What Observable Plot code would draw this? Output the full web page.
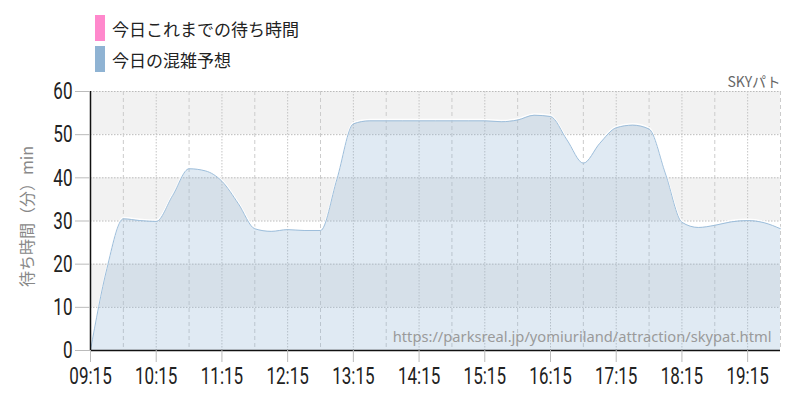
<!DOCTYPE html>
<html><head><meta charset="utf-8">
<script src="https://cdn.jsdelivr.net/npm/d3@7"></script>
<script src="https://cdn.jsdelivr.net/npm/@observablehq/plot@0.6"></script>
<style>
body{margin:0;background:#fff;}
#wrap{position:relative;width:800px;height:400px;overflow:hidden;}
#chart{position:absolute;left:0;top:0;}
.legend{position:absolute;left:95px;font-family:"Noto Sans CJK JP",sans-serif;font-size:17px;color:#222;display:flex;align-items:center;height:26px;}
.sw{width:10px;height:26px;margin-right:7px;display:inline-block;}
</style></head><body>
<div id="wrap">
  <div id="chart"></div>
  <div class="legend" style="top:15px"><span class="sw" style="background:#ff88cc"></span><span id="lg1"></span></div>
  <div class="legend" style="top:46px"><span class="sw" style="background:#8fb3d3"></span><span id="lg2"></span></div>
</div>
<script>
// ---- data ----
const legendLabels = ["今日これまでの待ち時間", "今日の混雑予想"];
const attraction = "SKYパト";
const sourceUrl = "https://parksreal.jp/yomiuriland/attraction/skypat.html";
const yLabel = "待ち時間（分）min";

const times = ["09:15","09:30","09:45","10:00","10:15","10:30","10:45","11:00","11:15","11:30","11:45",
  "12:00","12:15","12:30","12:45","13:00","13:15","13:30","13:45","14:00","14:15","14:30","14:45",
  "15:00","15:15","15:30","15:45","16:00","16:15","16:30","16:45","17:00","17:15","17:30","17:45",
  "18:00","18:15","18:30","18:45","19:00","19:15","19:30","19:45"];
const forecast = [0,19,30.5,30.1,29.9,35.9,42.1,41.6,39.2,34.0,28.2,
  27.6,28.0,27.8,27.8,39.7,52.5,53.2,53.2,53.2,53.2,53.2,53.2,
  53.2,53.2,53.0,53.4,54.5,54.2,48.8,43.4,48.0,51.6,52.2,51.3,
  40.9,29.7,28.5,29.0,29.8,30.1,29.6,28.2];

const xTickLabels = ["09:15","10:15","11:15","12:15","13:15","14:15","15:15","16:15","17:15","18:15","19:15"];
const xHalfTicks = ["09:45","10:45","11:45","12:45","13:45","14:45","15:45","16:45","17:45","18:45","19:45"];
const xStart = "09:15", xEnd = "19:45";
const yTicks = [0,10,20,30,40,50,60];
const bandLow = [10,30,50];
const bandHigh = [20,40,60];

// ---- build ----
document.getElementById("lg1").textContent = legendLabels[0];
document.getElementById("lg2").textContent = legendLabels[1];

const parse = d3.utcParse("%H:%M");
const data = times.map((t,i)=>({t:parse(t), v:forecast[i]}));
const bands = bandLow.map((lo,i)=>({lo, hi:bandHigh[i]}));

const chart = Plot.plot({
  width:800, height:400,
  marginLeft:90, marginRight:20, marginTop:91, marginBottom:50,
  x:{type:"utc", domain:[parse(xStart), parse(xEnd)]},
  y:{domain:[0,60]},
  style:{fontFamily:"Roboto,sans-serif", fontSize:"24px", color:"#222", background:"transparent"},
  marks:[
    Plot.rect(bands,{y1:"lo", y2:"hi", fill:"#f2f2f2"}),
    Plot.ruleY(yTicks,{stroke:"#bbb", strokeDasharray:"1.5,1.5"}),
    Plot.ruleX(xTickLabels.map(parse),{stroke:"#c4c4c4", strokeDasharray:"1.5,1.5"}),
    Plot.ruleX(xHalfTicks.map(parse),{stroke:"#cccccc", strokeDasharray:"4,3"}),
    Plot.areaY(data,{x:"t", y:"v", curve:"monotone-x", fill:"#8fb3d3", fillOpacity:0.28}),
    Plot.lineY(data,{x:"t", y:"v", curve:"monotone-x", stroke:"#fff", strokeWidth:1.5, dy:-1.3, strokeOpacity:0.9}),
    Plot.lineY(data,{x:"t", y:"v", curve:"monotone-x", stroke:"#9dbedb", strokeWidth:1}),
    Plot.ruleY([0],{stroke:"#111", strokeWidth:1.5}),
    Plot.ruleX([parse(xStart)],{stroke:"#111", strokeWidth:1.5}),
    Plot.axisY({ticks:yTicks, tickSize:15, tickPadding:3, label:null, stroke:"#bbb"}),
    Plot.axisX({ticks:xTickLabels.map(parse), tickFormat:d3.utcFormat("%H:%M"), tickSize:12, tickPadding:4, label:null, stroke:"#bbb"}),
    Plot.text([sourceUrl],{text:d=>d, frameAnchor:"bottom-right", dx:-9, dy:-9, textAnchor:"end", lineAnchor:"bottom",
      fontSize:14.7, fill:"#9a9a9a", fontFamily:"'Noto Sans',sans-serif"}),
    Plot.text([attraction],{text:d=>d, frameAnchor:"top-right", dy:-5, textAnchor:"end", lineAnchor:"bottom",
      fontSize:14, fill:"#666", fontFamily:"'Noto Sans CJK JP',sans-serif"}),
    Plot.text([yLabel],{text:d=>d, frameAnchor:"left", dx:-63, dy:-4.5, rotate:-90, textAnchor:"middle",
      fontSize:16, fill:"#888", fontFamily:"'Noto Sans CJK JP',sans-serif"})
  ]
});
document.getElementById("chart").appendChild(chart);

// condensed look for tick labels
const squeeze = 0.71;
chart.querySelectorAll('g[aria-label$="axis tick label"] text').forEach(t=>{
  const L = t.getComputedTextLength();
  t.setAttribute("textLength", (L*squeeze).toFixed(1));
  t.setAttribute("lengthAdjust","spacingAndGlyphs");
});
</script>
</body></html>
